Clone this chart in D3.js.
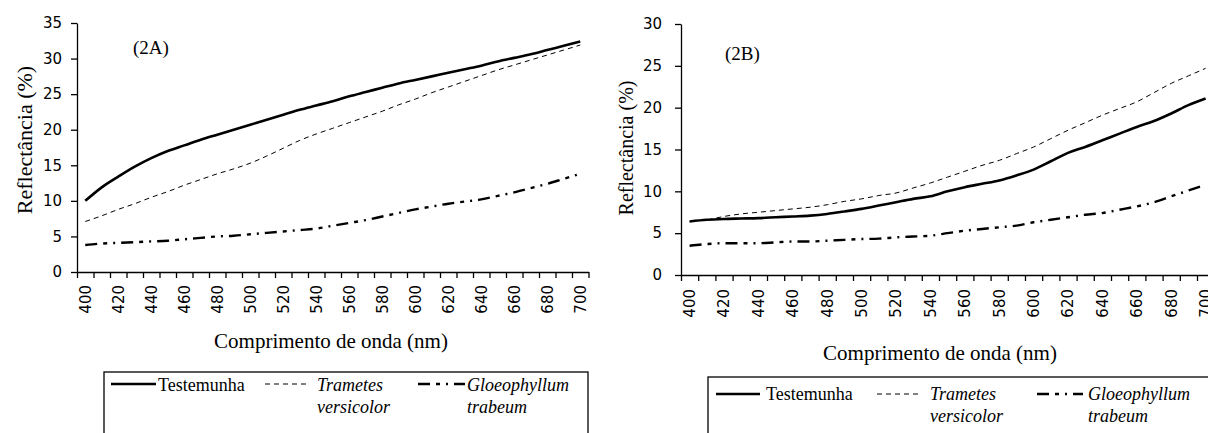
<!DOCTYPE html>
<html>
<head>
<meta charset="utf-8">
<script src="https://cdn.jsdelivr.net/npm/d3@7"></script>
<style>
  body { margin: 0; background: #fff; }
  svg { display: block; }
</style>
</head>
<body>
<svg id="chart" width="1208" height="433"></svg>
<script>
// wavelength categories (nm)
const wavelengths = [400, 410, 420, 430, 440, 450, 460, 470, 480, 490, 500, 510, 520, 530, 540, 550,
  560, 570, 580, 590, 600, 610, 620, 630, 640, 650, 660, 670, 680, 690, 700]
const xTickLabels = [400, 420, 440, 460, 480, 500, 520, 540, 560, 580, 600, 620, 640, 660, 680, 700]

// (2A)
const testemunhaA = [10.0, 11.9, 13.4, 14.8, 16.0, 17.0, 17.8, 18.6, 19.3, 20.0, 20.7, 21.4, 22.1, 22.8, 23.4, 24.0,
  24.7, 25.3, 25.9, 26.5, 27.0, 27.5, 28.0, 28.5, 29.0, 29.6, 30.1, 30.6, 31.2, 31.8, 32.4]
const trametesA = [7.1, 7.9, 8.8, 9.6, 10.5, 11.3, 12.2, 13.0, 13.8, 14.5, 15.3, 16.3, 17.4, 18.5, 19.4, 20.2,
  21.0, 21.8, 22.6, 23.5, 24.3, 25.2, 26.0, 26.8, 27.6, 28.4, 29.1, 29.8, 30.5, 31.2, 31.9]
const gloeophyllumA = [3.8, 4.0, 4.1, 4.2, 4.3, 4.4, 4.6, 4.8, 5.0, 5.1, 5.3, 5.5, 5.7, 5.9, 6.1, 6.5,
  6.9, 7.3, 7.8, 8.3, 8.8, 9.2, 9.6, 9.9, 10.2, 10.7, 11.2, 11.8, 12.4, 13.1, 13.8]
const yTicksA = [0, 5, 10, 15, 20, 25, 30, 35]

// (2B)
const testemunhaB = [6.4, 6.6, 6.7, 6.75, 6.8, 6.9, 7.0, 7.1, 7.3, 7.6, 7.9, 8.3, 8.7, 9.1, 9.4, 10.0,
  10.5, 10.9, 11.3, 11.9, 12.6, 13.6, 14.6, 15.3, 16.1, 16.9, 17.7, 18.4, 19.3, 20.3, 21.1]
const trametesB = [6.4, 6.6, 7.0, 7.3, 7.5, 7.7, 7.9, 8.1, 8.4, 8.8, 9.1, 9.5, 9.8, 10.4, 11.0, 11.7,
  12.4, 13.1, 13.7, 14.5, 15.3, 16.3, 17.3, 18.2, 19.1, 19.9, 20.7, 21.8, 22.9, 23.8, 24.7]
const gloeophyllumB = [3.5, 3.7, 3.8, 3.8, 3.8, 3.9, 4.0, 4.0, 4.1, 4.2, 4.3, 4.35, 4.5, 4.6, 4.7, 5.0,
  5.3, 5.5, 5.7, 5.9, 6.3, 6.6, 6.9, 7.2, 7.4, 7.8, 8.2, 8.7, 9.4, 10.1, 10.8]
const yTicksB = [0, 5, 10, 15, 20, 25, 30]

const seriesNames = ['Testemunha', 'Trametes versicolor', 'Gloeophyllum trabeum']

const serif = '"Liberation Serif", "Times New Roman", serif'
const sans = '"DejaVu Sans", sans-serif'

// line look per series
const styles = [
  { width: 2.6, dash: null },
  { width: 1, dash: '5,4' },
  { width: 2.4, dash: '12,6,4,6,2,6' }
]

const svg = d3.select('#chart')

function drawPanel(cfg) {
  const g = svg.append('g')

  const x = d3.scaleBand()
    .domain(wavelengths)
    .range([cfg.left, cfg.left + wavelengths.length * cfg.band])
  const xc = w => x(w) + x.bandwidth() / 2

  // boundaries between categories, for the tick marks
  const xb = d3.scaleLinear()
    .domain([0, wavelengths.length])
    .range(x.range())

  const y = d3.scaleLinear()
    .domain([0, cfg.yMax])
    .range([cfg.bottom, cfg.top])

  // x axis: line + boundary ticks
  g.append('g')
    .attr('transform', `translate(0, ${cfg.bottom})`)
    .call(d3.axisBottom(xb).tickValues(d3.range(0, wavelengths.length + 1)).tickSize(6).tickSizeOuter(0).tickFormat(''))
    .call(a => a.select('.domain').attr('stroke-width', 1.3))
    .call(a => a.selectAll('.tick line').attr('stroke-width', 1.3))

  // x labels at category centres (band axis already centres them)
  g.append('g')
    .attr('transform', `translate(0, ${cfg.bottom})`)
    .call(d3.axisBottom(x).tickValues(xTickLabels).tickSize(0))
    .call(a => a.select('.domain').remove())
    .call(a => a.selectAll('text')
      .attr('transform', 'rotate(-90)')
      .attr('x', -cfg.xLabelGap)
      .attr('y', 0)
      .attr('dy', '0.36em')
      .style('text-anchor', 'end')
      .style('font-family', sans)
      .style('font-size', '15px'))

  // y axis
  g.append('g')
    .attr('transform', `translate(${cfg.left}, 0)`)
    .call(d3.axisLeft(y).tickValues(cfg.yTicks).tickSize(6).tickSizeOuter(0).tickPadding(cfg.yPad))
    .call(a => a.select('.domain').attr('stroke-width', 1.3))
    .call(a => a.selectAll('.tick line').attr('stroke-width', 1.3))
    .call(a => a.selectAll('text').style('font-family', sans).style('font-size', '15px'))

  // series
  const line = d3.line()
    .x((d, i) => xc(wavelengths[i]))
    .y(d => y(d))
    .curve(d3.curveMonotoneX)

  cfg.series.forEach((s, i) => {
    g.append('path')
      .datum(s)
      .attr('d', line)
      .attr('fill', 'none')
      .attr('stroke', '#000')
      .attr('stroke-width', styles[i].width)
      .attr('stroke-dasharray', styles[i].dash)
  })

  // panel tag
  g.append('text')
    .attr('x', cfg.tag[0])
    .attr('y', cfg.tag[1])
    .style('font-family', serif)
    .style('font-size', '19px')
    .text(cfg.label)

  // axis titles
  g.append('text')
    .attr('transform', `translate(${cfg.yTitle[0]}, ${cfg.yTitle[1]}) rotate(-90)`)
    .attr('text-anchor', 'middle')
    .attr('dy', '0.35em')
    .style('font-family', serif)
    .style('font-size', cfg.yTitleSize + 'px')
    .text('Reflectância (%)')

  g.append('text')
    .attr('x', cfg.xTitle[0])
    .attr('y', cfg.xTitle[1])
    .attr('text-anchor', 'middle')
    .style('font-family', serif)
    .style('font-size', '21px')
    .text('Comprimento de onda (nm)')

  // legend
  const L = cfg.legend
  const lg = g.append('g').attr('transform', `translate(${L.x}, ${L.y})`)
  lg.append('rect')
    .attr('x', 0).attr('y', 0)
    .attr('width', L.w).attr('height', 90)
    .attr('fill', 'none')
    .attr('stroke', '#000')
    .attr('stroke-width', 1.3)

  L.items.forEach((it, i) => {
    lg.append('line')
      .attr('x1', it.sym[0]).attr('x2', it.sym[1])
      .attr('y1', L.symY).attr('y2', L.symY)
      .attr('stroke', '#000')
      .attr('stroke-width', styles[i].width)
      .attr('stroke-dasharray', styles[i].dash)
    const words = i === 0 ? [seriesNames[i]] : seriesNames[i].split(' ')
    words.forEach((w, k) => {
      lg.append('text')
        .attr('x', it.tx)
        .attr('y', L.rows[k])
        .style('font-family', serif)
        .style('font-size', '18px')
        .style('font-style', i === 0 ? 'normal' : 'italic')
        .text(w)
    })
  })
}

drawPanel({
  label: '(2A)',
  left: 77, band: 16.5, top: 23, bottom: 272, yMax: 35, yTicks: yTicksA, yPad: 9, xLabelGap: 13,
  series: [testemunhaA, trametesA, gloeophyllumA],
  tag: [133, 54],
  yTitle: [24, 140], yTitleSize: 22,
  xTitle: [331, 348],
  legend: {
    x: 104, y: 372, w: 484, symY: 12, rows: [19, 41],
    items: [{ sym: [7, 52], tx: 54 }, { sym: [161, 203], tx: 213 }, { sym: [314, 361], tx: 363 }]
  }
})

drawPanel({
  label: '(2B)',
  left: 681, band: 17.2, top: 24, bottom: 275, yMax: 30, yTicks: yTicksB, yPad: 13, xLabelGap: 14,
  series: [testemunhaB, trametesB, gloeophyllumB],
  tag: [725, 60],
  yTitle: [626, 148], yTitleSize: 20,
  xTitle: [940, 360],
  legend: {
    x: 708, y: 377, w: 540, symY: 17, rows: [23, 45],
    items: [{ sym: [8, 52], tx: 58 }, { sym: [169, 212], tx: 222 }, { sym: [329, 375], tx: 380 }]
  }
})
</script>
</body>
</html>
